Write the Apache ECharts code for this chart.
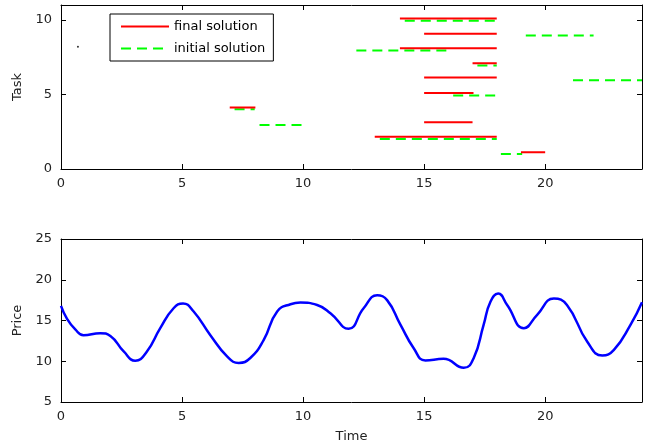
<!DOCTYPE html>
<html><head><meta charset="utf-8">
<script src="https://cdn.jsdelivr.net/npm/echarts@6/dist/echarts.min.js"></script>
<style>html,body{margin:0;padding:0;background:#fff}#c{width:660px;height:447px}</style>
</head><body><div id="c"></div>
<script>
// final solution segments: [start, end, task-level]
const finalStart = [14.0, 15.0, 14.0, 17.0, 15.0, 15.0, 6.97, 15.0, 12.96, 19.0];
const finalEnd   = [18.0, 18.0, 18.0, 18.0, 18.0, 17.04, 8.03, 17.0, 18.0, 20.0];
const finalY     = [10.1, 9.07, 8.1, 7.1, 6.13, 5.1, 4.13, 3.13, 2.17, 1.13];
// initial solution segments
const initStart = [14.2, 19.2, 12.2, 17.2, 21.15, 16.2, 7.17, 8.2, 13.17, 18.17];
const initEnd   = [18.0, 22.0, 16.05, 18.0, 24.0, 18.0, 8.0, 10.0, 18.0, 19.05];
const initY     = [9.95, 8.95, 7.95, 6.95, 5.95, 4.93, 4.0, 2.95, 2.02, 1.0];
// stray point
const dotX = [0.7], dotY = [8.2];
// price curve
const timeX = [0, 0.25, 0.59, 0.93, 1.62, 2.04, 2.59, 3.07, 3.55, 4.1, 4.65, 5.04, 5.48, 6.17, 6.86, 7.34, 7.82, 8.37, 8.93, 9.48, 9.89, 10.58, 11.13, 11.88, 12.5, 13.06, 13.47, 14.02, 14.57, 15.05, 15.8, 16.64, 17.05, 17.46, 17.74, 18.06, 18.43, 19.12, 19.67, 20.36, 20.9, 21.74, 22.36, 22.84, 23.53, 24.0];
const priceY = [16.8, 15.2, 13.9, 13.2, 13.45, 13.1, 11.2, 10.06, 11.2, 14.06, 16.5, 17.1, 16.1, 13.2, 10.6, 9.8, 10.4, 12.6, 16.1, 17.0, 17.2, 16.9, 15.9, 13.98, 16.5, 18.1, 17.5, 14.5, 11.6, 10.1, 10.3, 9.2, 10.4, 14.5, 17.3, 18.3, 16.9, 14.06, 15.7, 17.7, 16.9, 12.4, 10.7, 11.4, 14.5, 17.25];
const xTicks = {min: 0, max: 24, interval: 5};
const taskTicks = {min: 0, max: 11, interval: 5};
const priceTicks = {min: 5, max: 25, interval: 5};

function segData(s, e, y) {
  const d = [];
  for (let i = 0; i < s.length; i++) {
    d.push([s[i], y[i]], [e[i], y[i]], ['-', '-']);
  }
  return d;
}
const FONT = 'DejaVu Sans';
const lab = {color: '#222', fontFamily: FONT, fontSize: 13};
function xAx(grid, show, pos, name) {
  return Object.assign({
    type: 'value', gridIndex: grid, position: pos,
    axisLine: {show: true, onZero: false, lineStyle: {color: '#000', width: 1}},
    axisTick: {show: true, inside: true, length: 5, lineStyle: {color: '#000'}},
    axisLabel: Object.assign({show: show, margin: 8, showMaxLabel: false}, lab),
    splitLine: {show: false},
    name: name || '', nameLocation: 'middle', nameGap: 28,
    nameTextStyle: Object.assign({}, lab)
  }, xTicks);
}
function yAx(grid, show, pos, ticks, name) {
  return Object.assign({
    type: 'value', gridIndex: grid, position: pos,
    axisLine: {show: true, onZero: false, lineStyle: {color: '#000', width: 1}},
    axisTick: {show: true, inside: true, length: 5, lineStyle: {color: '#000'}},
    axisLabel: Object.assign({show: show, margin: 9, showMaxLabel: ticks.max % ticks.interval === 0}, lab),
    splitLine: {show: false},
    name: name || '', nameLocation: 'middle', nameGap: 32,
    nameTextStyle: Object.assign({}, lab)
  }, ticks);
}
const chart = echarts.init(document.getElementById('c'));
chart.setOption({
  animation: false,
  backgroundColor: '#fff',
  grid: [
    {left: 61, right: 18, top: 5, height: 164},
    {left: 61, right: 18, top: 239, height: 163}
  ],
  xAxis: [xAx(0, true, 'bottom'), xAx(0, false, 'top'), xAx(1, true, 'bottom', 'Time'), xAx(1, false, 'top')],
  yAxis: [yAx(0, true, 'left', taskTicks, 'Task'), yAx(0, false, 'right', taskTicks),
          yAx(1, true, 'left', priceTicks, 'Price'), yAx(1, false, 'right', priceTicks)],
  legend: {
    data: ['final solution', 'initial solution'],
    orient: 'vertical', left: 110, top: 14,
    padding: [6, 8, 6, 10], itemGap: 9, itemWidth: 48, itemHeight: 14,
    itemStyle: {opacity: 0},
    borderColor: '#000', borderWidth: 1, borderRadius: 0, backgroundColor: '#fff',
    textStyle: {color: '#000', fontFamily: FONT, fontSize: 13}
  },
  series: [
    {name: 'final solution', type: 'line', xAxisIndex: 0, yAxisIndex: 0, symbol: 'none',
     data: segData(finalStart, finalEnd, finalY), connectNulls: false,
     lineStyle: {color: '#ff0000', width: 2}, itemStyle: {color: '#ff0000'}, z: 3},
    {name: 'initial solution', type: 'line', xAxisIndex: 0, yAxisIndex: 0, symbol: 'none',
     data: segData(initStart, initEnd, initY), connectNulls: false,
     lineStyle: {color: '#00ff00', width: 2, type: [10, 6]}, itemStyle: {color: '#00ff00'}, z: 2},
    {name: 'dot', type: 'scatter', xAxisIndex: 0, yAxisIndex: 0, symbolSize: 2,
     data: dotX.map((x, i) => [x, dotY[i]]), itemStyle: {color: '#000'}},
    {name: 'price', type: 'line', xAxisIndex: 2, yAxisIndex: 2, symbol: 'none', smooth: 0.5,
     data: timeX.map((x, i) => [x, priceY[i]]),
     lineStyle: {color: '#0000ff', width: 2.5}}
  ]
});
</script></body></html>
